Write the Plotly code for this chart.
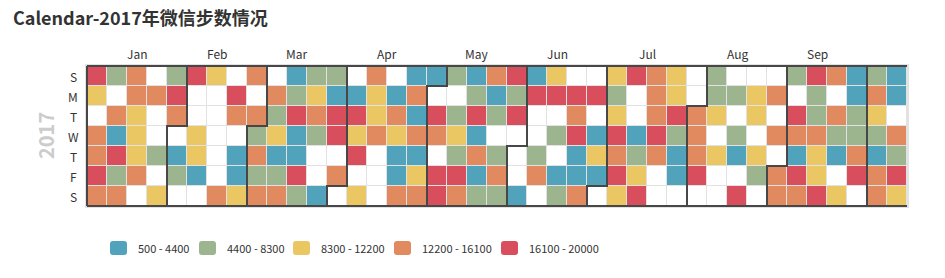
import datetime as dt
import plotly.graph_objects as go

# ---------------- data ----------------
title_text = "Calendar-2017年微信步数情况"
year_label = "2017"
start_date = dt.date(2017, 1, 1)
weekday_labels = ["S", "M", "T", "W", "T", "F", "S"]
month_labels = ["Jan", "Feb", "Mar", "Apr", "May", "Jun", "Jul", "Aug", "Sep"]
piece_bounds = [500, 4400, 8300, 12200, 16100, 20000]
piece_labels = ["500 - 4400", "4400 - 8300", "8300 - 12200", "12200 - 16100", "16100 - 20000"]
piece_colors = ["#50a3ba", "#9db58e", "#eac763", "#e18a60", "#d94e5d"]

# daily step counts, one list per week (Sun..Sat), starting 2017-01-01
# (values estimated from the colour band of each cell; None = no data)
steps_by_week = [
    [18050, 10250, None, 14150, 14150, 18050, 14150],
    [6350, None, 14150, 2450, 18050, 6350, 14150],
    [14150, 14150, 10250, 10250, 10250, 14150, None],
    [None, 14150, None, None, 6350, None, 10250],
    [6350, 18050, 14150, None, 2450, 6350, None],
    [18050, None, None, 10250, 10250, 2450, None],
    [10250, None, None, None, None, None, 14150],
    [None, 18050, 14150, None, 2450, 2450, 10250],
    [14150, None, 14150, 6350, 14150, 6350, 14150],
    [None, 14150, 6350, 10250, 2450, 6350, 14150],
    [2450, 6350, 18050, 2450, 2450, 18050, 6350],
    [6350, 10250, 14150, 6350, None, None, 2450],
    [6350, 2450, 18050, 18050, None, 14150, None],
    [None, 2450, 18050, 10250, 18050, None, 10250],
    [14150, 10250, 10250, 14150, None, None, None],
    [None, 2450, 14150, 10250, 2450, 2450, 14150],
    [2450, 14150, 2450, 14150, 2450, 10250, 14150],
    [2450, None, 18050, 14150, None, 18050, 18050],
    [6350, None, 6350, 10250, 6350, 18050, 14150],
    [2450, 6350, 18050, 2450, 14150, 2450, 6350],
    [14150, 2450, 6350, None, 6350, 14150, 6350],
    [18050, 6350, 18050, None, None, None, 2450],
    [2450, 18050, None, None, 6350, 14150, None],
    [10250, 18050, None, 6350, None, 2450, 6350],
    [None, 18050, 14150, 18050, 2450, 2450, 14150],
    [None, 18050, None, 2450, 10250, 2450, None],
    [10250, 6350, 10250, 18050, 14150, 18050, 10250],
    [18050, None, None, 2450, 6350, 10250, 18050],
    [14150, 14150, 14150, 18050, 14150, None, None],
    [10250, 10250, 18050, 6350, 2450, 2450, None],
    [None, None, 14150, 14150, 14150, 18050, None],
    [6350, 6350, 10250, None, 10250, None, None],
    [None, 6350, None, 6350, 2450, None, 18050],
    [None, 10250, 10250, None, 10250, 6350, None],
    [None, 14150, None, 14150, None, 14150, 14150],
    [6350, None, 18050, 14150, 2450, 18050, 14150],
    [18050, 6350, 6350, 14150, 10250, 10250, 18050],
    [14150, None, 14150, 6350, 2450, None, 10250],
    [2450, 2450, 6350, 6350, 14150, 18050, None],
    [6350, 14150, 10250, 6350, 2450, 14150, 14150],
    [2450, 2450, None, 14150, 6350, 18050, 10250],
]

# ---------------- layout constants ----------------
W, H = 945, 278
FONT = "Noto Sans CJK SC"
TXT = "#333333"
LINE = "#474747"
PAD = 0.1
n_weeks = len(steps_by_week)
ML, MT = 85, 64
plot_w = 20 * (n_weeks + 2 * PAD)
plot_h = 20 * (7 + 2 * PAD)
MR = W - ML - plot_w
MB = H - MT - plot_h
end_date = start_date + dt.timedelta(days=7 * n_weeks - 1)

weeks = list(range(n_weeks))
days = list(range(7))
z = [[steps_by_week[w][d] for w in weeks] for d in days]

zmin, zmax = piece_bounds[0], piece_bounds[-1]
cs = []
for i, c in enumerate(piece_colors):
    a = (piece_bounds[i] - zmin) / (zmax - zmin)
    b = (piece_bounds[i + 1] - zmin) / (zmax - zmin)
    cs += [[a, c], [b, c]]

fig = go.Figure()
fig.add_trace(go.Heatmap(
    z=[[1] * n_weeks for _ in days], x=weeks, y=days,
    colorscale=[[0, "white"], [1, "white"]], showscale=False,
    xgap=1, ygap=1, hoverinfo="skip"))
fig.add_trace(go.Heatmap(
    z=z, x=weeks, y=days, colorscale=cs, zmin=zmin, zmax=zmax,
    showscale=False, xgap=1, ygap=1))


def pos(d):
    off = (d - start_date).days
    return off // 7, off % 7


# month boundary lines
for m in range(1, 13):
    d0 = dt.date(start_date.year, m, 1)
    if d0 > end_date:
        break
    col, row = pos(d0)
    if row == 0:
        xs = [col - 0.5, col - 0.5]
        ys = [-0.5, 6.5]
    else:
        xs = [col + 0.5, col + 0.5, col - 0.5, col - 0.5]
        ys = [-0.5, row - 0.5, row - 0.5, 6.5]
    fig.add_trace(go.Scatter(x=xs, y=ys, mode="lines",
                             line=dict(color=LINE, width=2),
                             hoverinfo="skip", showlegend=False))
for yy in (-0.5, 6.5):
    fig.add_trace(go.Scatter(x=[-0.5, n_weeks - 0.5], y=[yy, yy], mode="lines",
                             line=dict(color=LINE, width=2),
                             hoverinfo="skip", showlegend=False))

ann = []
# month labels
for i, lab in enumerate(month_labels):
    first = dt.date(start_date.year, i + 1, 1)
    nxt = dt.date(start_date.year + (i + 1) // 12, (i + 1) % 12 + 1, 1)
    last = nxt - dt.timedelta(days=1)
    c0, _ = pos(first)
    c1, _ = pos(last)
    ann.append(dict(x=(c0 + c1) / 2, y=1, xref="x", yref="paper",
                    yshift=11, yanchor="middle", xanchor="center",
                    text=lab, showarrow=False,
                    font=dict(family=FONT, size=12, color=TXT)))
# weekday labels
for d, lab in enumerate(weekday_labels):
    ann.append(dict(x=0, y=d, xref="paper", yref="y", xshift=-12,
                    xanchor="center", yanchor="middle", text=lab,
                    showarrow=False, font=dict(family=FONT, size=12, color=TXT)))
# year label
ann.append(dict(x=0, y=3, xref="paper", yref="y", xshift=-40,
                xanchor="center", yanchor="middle", text=year_label,
                textangle=-90, showarrow=False,
                font=dict(family=FONT, size=20, color="#cccccc", weight="bold")))

# legend (visual map pieces)
legend_x = [110, 199, 293, 394, 501]
legend_y = 248
sw_w, sw_h, r = 17, 14, 3


def px(x):
    return (x - ML) / plot_w


def py(y):
    return (MT + plot_h - y) / plot_h


shapes = []
for i, (lab, c) in enumerate(zip(piece_labels, piece_colors)):
    x0, x1 = legend_x[i], legend_x[i] + sw_w
    y0, y1 = legend_y - sw_h / 2, legend_y + sw_h / 2
    path = (f"M {px(x0 + r)},{py(y0)} L {px(x1 - r)},{py(y0)} "
            f"Q {px(x1)},{py(y0)} {px(x1)},{py(y0 + r)} "
            f"L {px(x1)},{py(y1 - r)} Q {px(x1)},{py(y1)} {px(x1 - r)},{py(y1)} "
            f"L {px(x0 + r)},{py(y1)} Q {px(x0)},{py(y1)} {px(x0)},{py(y1 - r)} "
            f"L {px(x0)},{py(y0 + r)} Q {px(x0)},{py(y0)} {px(x0 + r)},{py(y0)} Z")
    shapes.append(dict(type="path", path=path, xref="paper", yref="paper",
                       fillcolor=c, line=dict(width=0)))
    ann.append(dict(x=px(x1 + 9), y=py(legend_y), xref="paper", yref="paper",
                    xanchor="left", yanchor="middle", text=lab, showarrow=False,
                    font=dict(family=FONT, size=11, color=TXT)))

fig.update_layout(
    width=W, height=H,
    margin=dict(l=ML, r=MR, t=MT, b=MB),
    paper_bgcolor="white", plot_bgcolor="#e2e2e2",
    title=dict(text=title_text, x=13 / W, xref="container", xanchor="left",
               y=1 - 19 / H, yref="container", yanchor="middle",
               font=dict(family=FONT, size=18, color=TXT, weight="bold")),
    xaxis=dict(range=[-0.5 - PAD, n_weeks - 0.5 + PAD], visible=False, fixedrange=True),
    yaxis=dict(range=[6.5 + PAD, -0.5 - PAD], visible=False, fixedrange=True),
    annotations=ann, shapes=shapes, showlegend=False,
)

fig.write_html("out.html")
